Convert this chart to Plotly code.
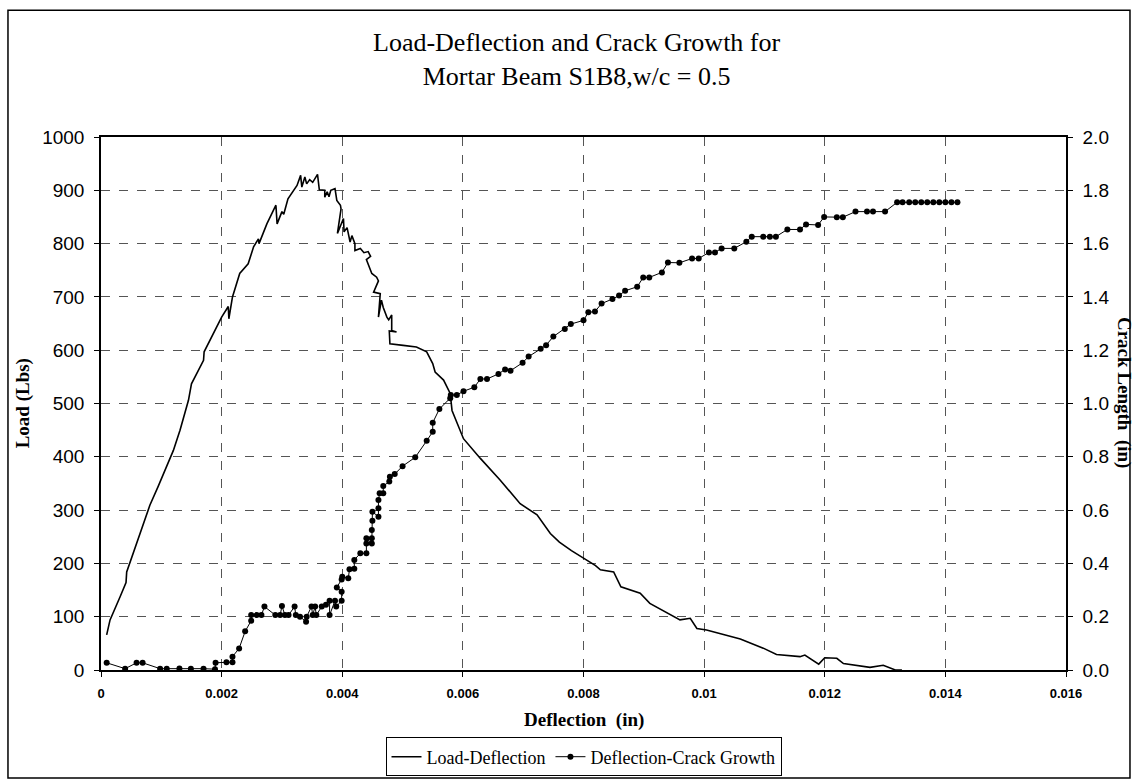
import plotly.graph_objects as go

# Load-deflection record (deflection in inches, load in lbs), in recorded order
load_defl = [0.000094, 0.00015, 0.000315, 0.000415, 0.000426, 0.000536, 0.0007, 0.00081, 0.00095,
             0.00109, 0.0012, 0.00131, 0.00139, 0.00145, 0.0015, 0.0017, 0.00171, 0.002, 0.00211,
             0.00212, 0.00218, 0.0023, 0.00244, 0.00253, 0.00261, 0.00262, 0.00275, 0.0029, 0.00292,
             0.0030, 0.00303, 0.0031, 0.00325, 0.00331, 0.00333, 0.00338, 0.00341, 0.00346, 0.00351,
             0.00359, 0.00362, 0.00371, 0.00371, 0.00375, 0.00378, 0.00381, 0.00388, 0.00391, 0.00397,
             0.00398, 0.00392, 0.00402, 0.00403, 0.00408, 0.00413, 0.00416, 0.00421, 0.00421, 0.0043,
             0.00436, 0.00443, 0.00447, 0.0044, 0.00449, 0.00457, 0.0046, 0.00452, 0.00463, 0.0046,
             0.00465, 0.00468, 0.00474, 0.00477, 0.00482, 0.00482, 0.0049, 0.00478, 0.00479, 0.00501,
             0.00523, 0.0054, 0.0055, 0.00554, 0.00568, 0.00579, 0.00582, 0.00601, 0.00629, 0.00662,
             0.00695, 0.00723, 0.00745, 0.0076, 0.0078, 0.008, 0.0082, 0.00828, 0.0085, 0.00862,
             0.00877, 0.00894, 0.0091, 0.00935, 0.0096, 0.00977, 0.00988, 0.01004, 0.0106, 0.01098,
             0.0112, 0.01159, 0.01167, 0.0119, 0.012, 0.0122, 0.01231, 0.01275, 0.01297, 0.01317,
             0.01328]
load_lbs = [66, 94, 137, 164, 184, 219, 275, 309, 345,
            381, 412, 450, 481, 506, 537, 581, 597, 662, 682,
            659, 700, 744, 762, 794, 809, 800, 837, 872, 837,
            860, 855, 884, 909, 928, 906, 925, 912, 920, 915,
            930, 901, 900, 887, 897, 888, 900, 903, 881, 872,
            865, 819, 847, 822, 830, 803, 815, 800, 787, 791,
            783, 785, 776, 770, 744, 737, 730, 709, 706, 662,
            694, 680, 662, 657, 666, 637, 634, 636, 612, 609,
            606, 597, 575, 559, 544, 519, 487, 434, 397, 356,
            312, 291, 256, 240, 224, 210, 196, 188, 184, 156,
            150, 144, 125, 109, 94, 97, 78, 75, 58, 41,
            29, 25, 28, 11, 23, 22, 12, 5, 9, 0,
            0]

# Crack growth record (deflection in inches, crack length in inches)
crack_defl = [0.000094, 0.0004, 0.00059, 0.00069, 0.00098, 0.00109, 0.0013, 0.00149, 0.0017,
              0.00189, 0.0019, 0.00208, 0.00218, 0.00218, 0.00229, 0.00239, 0.00249, 0.00249,
              0.00258, 0.00266, 0.00271, 0.00289, 0.00297, 0.003, 0.00305, 0.00311, 0.00321,
              0.00323, 0.0033, 0.0034, 0.00341, 0.00349, 0.00351, 0.00355, 0.00357, 0.00366,
              0.00373, 0.00379, 0.00379, 0.00388, 0.0039, 0.00399, 0.00399, 0.00391, 0.00399,
              0.004, 0.0041, 0.00412, 0.0042, 0.0042, 0.0043, 0.0044, 0.0044, 0.0044, 0.00449,
              0.00449, 0.00449, 0.0045, 0.0045, 0.0046, 0.0046, 0.0046, 0.00462, 0.00468, 0.00468,
              0.00478, 0.00479, 0.00487, 0.005, 0.00521, 0.0054, 0.0055, 0.0055, 0.00561, 0.00579,
              0.0058, 0.0059, 0.00601, 0.00619, 0.00629, 0.0064, 0.00659, 0.0067, 0.00679, 0.00699,
              0.00709, 0.00729, 0.00738, 0.0075, 0.00769, 0.00779, 0.008, 0.00808, 0.00819, 0.0083,
              0.00848, 0.00859, 0.00869, 0.00889, 0.00899, 0.00909, 0.0093, 0.0094, 0.00959, 0.0098,
              0.00991, 0.01008, 0.01018, 0.01029, 0.0105, 0.0107, 0.01079, 0.01098, 0.01109, 0.01119,
              0.01138, 0.01159, 0.01169, 0.01189, 0.01199, 0.0122, 0.0123, 0.01251, 0.0127, 0.0128,
              0.013, 0.0132, 0.01329, 0.0134, 0.0135, 0.0136, 0.0137, 0.0138, 0.0139, 0.0140,
              0.0141, 0.0142]
crack_len = [0.027, 0.005, 0.027, 0.027, 0.005, 0.005, 0.006, 0.005, 0.005,
             0.003, 0.027, 0.029, 0.029, 0.05, 0.081, 0.145, 0.185, 0.206,
             0.206, 0.206, 0.238, 0.206, 0.206, 0.240, 0.206, 0.206, 0.238,
             0.206, 0.200, 0.181, 0.200, 0.238, 0.206, 0.238, 0.206, 0.238,
             0.245, 0.26, 0.206, 0.26, 0.238, 0.26, 0.294, 0.31, 0.34,
             0.35, 0.344, 0.378, 0.38, 0.413, 0.438, 0.438, 0.475, 0.494, 0.475,
             0.494, 0.525, 0.56, 0.594, 0.575, 0.607, 0.638, 0.663, 0.663, 0.69,
             0.707, 0.725, 0.735, 0.765, 0.798, 0.86, 0.894, 0.928, 0.979, 1.02,
             1.032, 1.032, 1.046, 1.061, 1.092, 1.092, 1.111, 1.128, 1.123, 1.153,
             1.176, 1.205, 1.219, 1.251, 1.28, 1.298, 1.312, 1.342, 1.345, 1.375,
             1.392, 1.405, 1.423, 1.438, 1.473, 1.473, 1.492, 1.529, 1.528, 1.544,
             1.544, 1.567, 1.567, 1.582, 1.582, 1.607, 1.626, 1.626, 1.626, 1.626,
             1.653, 1.653, 1.672, 1.670, 1.700, 1.699, 1.699, 1.72, 1.72, 1.72,
             1.72, 1.755, 1.755, 1.755, 1.755, 1.755, 1.755, 1.755, 1.755, 1.755,
             1.755, 1.755]

x_tickvals = [0, 0.002, 0.004, 0.006, 0.008, 0.01, 0.012, 0.014, 0.016]
x_ticktext = ["0", "0.002", "0.004", "0.006", "0.008", "0.01", "0.012", "0.014", "0.016"]
load_ticks = [0, 100, 200, 300, 400, 500, 600, 700, 800, 900, 1000]
crack_ticks = [0.0, 0.2, 0.4, 0.6, 0.8, 1.0, 1.2, 1.4, 1.6, 1.8, 2.0]

SERIF = "Liberation Serif, Times New Roman, serif"
SANS = "Liberation Sans, Arial, sans-serif"

fig = go.Figure()
fig.add_trace(go.Scatter(
    x=load_defl, y=load_lbs, mode="lines", name="Load-Deflection",
    line=dict(color="black", width=1.6),
))
fig.add_trace(go.Scatter(
    x=crack_defl, y=crack_len, mode="lines+markers", name="Deflection-Crack Growth",
    yaxis="y2",
    line=dict(color="black", width=1),
    marker=dict(color="black", size=6, symbol="circle"),
))

grid = dict(showgrid=True, gridcolor="#555555", gridwidth=1, griddash="dash")

fig.update_layout(
    width=1136, height=780,
    margin=dict(l=101, r=70, t=137, b=110, autoexpand=False),
    paper_bgcolor="white", plot_bgcolor="white",
    showlegend=True,
    legend=dict(
        orientation="h", x=0.5, xanchor="center",
        yref="container", y=0.0545, yanchor="top",
        bordercolor="black", borderwidth=1, bgcolor="white",
        font=dict(family=SERIF, size=18, color="black"),
        itemwidth=30, tracegroupgap=0,
    ),
    xaxis=dict(
        range=[0, 0.016], tickvals=x_tickvals, ticktext=x_ticktext,
        tickfont=dict(family=SANS, size=13, color="black", weight="bold"),
        showline=True, linecolor="black", linewidth=1.5, mirror=True,
        ticks="outside", ticklen=5, tickcolor="black",
        ticklabelstandoff=6, zeroline=False, **grid,
    ),
    yaxis=dict(
        range=[0, 1000], tickvals=load_ticks,
        tickfont=dict(family=SANS, size=19, color="black"),
        showline=True, linecolor="black", linewidth=1.5,
        ticks="outside", ticklen=5, tickcolor="black",
        ticklabelstandoff=6, zeroline=False, **grid,
    ),
    yaxis2=dict(
        range=[0, 2], tickvals=crack_ticks, tickformat=".1f",
        overlaying="y", side="right",
        tickfont=dict(family=SANS, size=19, color="black"),
        showline=True, linecolor="black", linewidth=1.5,
        ticks="outside", ticklen=5, tickcolor="black",
        ticklabelstandoff=6, showgrid=False, zeroline=False,
    ),
    annotations=[
        dict(text="Load-Deflection and Crack Growth for<br>Mortar Beam S1B8,w/c = 0.5",
             xref="paper", yref="paper", x=0.493, y=1.146, xanchor="center", yanchor="middle",
             showarrow=False, font=dict(family=SERIF, size=26, color="black")),
        dict(text="<b>Deflection  (in)</b>", xref="paper", yref="paper",
             x=0.5, y=-0.093, xanchor="center", yanchor="middle", showarrow=False,
             font=dict(family=SERIF, size=19, color="black")),
        dict(text="<b>Load (Lbs)</b>", xref="paper", yref="paper", textangle=-90,
             x=-0.081, y=0.5, xanchor="center", yanchor="middle", showarrow=False,
             font=dict(family=SERIF, size=19, color="black")),
        dict(text="<b>Crack Length  (in)</b>", xref="paper", yref="paper", textangle=90,
             x=1.06, y=0.52, xanchor="center", yanchor="middle", showarrow=False,
             font=dict(family=SERIF, size=19, color="black")),
    ],
    shapes=[
        dict(type="rect", xref="paper", yref="paper",
             x0=-0.0964, x1=1.0663, y0=-0.2026, y1=1.238,
             line=dict(color="black", width=1.5), layer="below"),
    ],
)

fig.write_html("out.html")
